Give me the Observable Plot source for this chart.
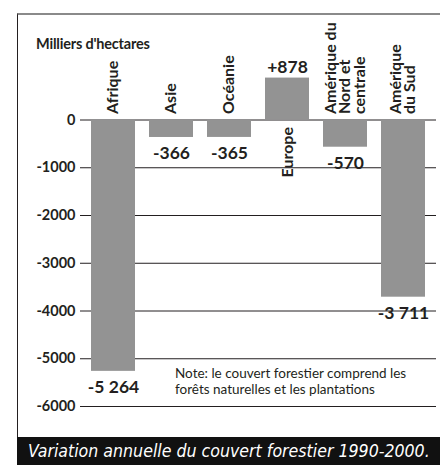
<!DOCTYPE html>
<html>
<head>
<meta charset="utf-8">
<script src="https://cdn.jsdelivr.net/npm/d3@7"></script>
<script src="https://cdn.jsdelivr.net/npm/@observablehq/plot@0.6"></script>
<style>
  html, body { margin: 0; padding: 0; background: #fff; }
  #wrap { position: relative; width: 440px; height: 465px; overflow: hidden; font-family: Lato, "Open Sans", sans-serif; color: #231f20; }
  #frame { position: absolute; left: 17px; top: 13px; width: 430px; height: 430px; border-top: 2px solid #8a8a8a; border-left: 1.5px solid #231f20; }
  #chart { position: absolute; left: 0; top: 0; }
  #unit { position: absolute; left: 36px; top: 35px; font-size: 14.5px; font-weight: bold; letter-spacing: -0.2px; }
  #note { position: absolute; left: 175px; top: 366px; font-size: 13.5px; line-height: 15.5px; color: #231f20; }
  #caption { position: absolute; left: 17px; top: 437px; width: 423px; height: 28px; background: #111; color: #fff;
    font-family: "Liberation Sans Narrow", "DejaVu Sans Condensed", sans-serif; font-style: italic; font-size: 17.6px; line-height: 28px;
    padding-left: 11px; box-sizing: border-box; white-space: nowrap; }
</style>
</head>
<body>
<div id="wrap">
  <div id="frame"></div>
  <div id="chart"></div>
  <div id="unit">Milliers d'hectares</div>
  <div id="note">Note: le couvert forestier comprend les<br>forêts naturelles et les plantations</div>
  <div id="caption">Variation annuelle du couvert forestier 1990-2000.</div>
</div>
<script>
const regions = ["Afrique", "Asie", "Océanie", "Europe", "Amérique du\nNord et\ncentrale", "Amérique\ndu Sud"];
const values = [-5264, -366, -365, 878, -570, -3711];
const yTicks = [0, -1000, -2000, -3000, -4000, -5000, -6000];

const data = regions.map((r, i) => ({region: r, value: values[i]}));
const fmt = d3.formatLocale({decimal: ",", thousands: " ", grouping: [3], currency: ["", ""], minus: "-"}).format("+,d");

const barColor = "#939393";
const ink = "#231f20";

const chart = Plot.plot({
  width: 440,
  height: 437,
  marginLeft: 80,
  marginRight: 4,
  marginTop: 24,
  marginBottom: 31,
  style: {fontFamily: "Lato, 'Open Sans', sans-serif", color: ink, background: "transparent", overflow: "visible"},
  x: {domain: regions, padding: 0.25, paddingOuter: 0.155, axis: null},
  y: {domain: [-6000, 2000], axis: null},
  marks: [
    Plot.ruleY(yTicks, {stroke: ink, strokeWidth: 1}),
    Plot.barY(data, {x: "region", y: "value", fill: barColor}),
    Plot.axisY({ticks: yTicks, label: null, tickSize: 0, tickPadding: 5, tickFormat: d => String(d), fontSize: 14.5, fontWeight: "bold", fill: ink}),
    Plot.text(data.filter(d => d.value < 0), {x: "region", y: 0, text: "region", rotate: -90, textAnchor: "start", lineAnchor: "middle", lineHeight: 0.9, dy: -6, fontSize: 16, fontWeight: "bold", fill: ink}),
    Plot.text(data.filter(d => d.value >= 0), {x: "region", y: 0, text: "region", rotate: -90, textAnchor: "end", lineAnchor: "middle", dy: 7, fontSize: 16, fontWeight: "bold", fill: ink}),
    Plot.text(data.filter(d => d.value < 0), {x: "region", y: "value", text: d => fmt(d.value), dy: 16, fontSize: 17.5, fontWeight: "bold", fill: ink}),
    Plot.text(data.filter(d => d.value >= 0), {x: "region", y: "value", text: d => fmt(d.value), dy: -11, fontSize: 17.5, fontWeight: "bold", fill: ink})
  ]
});
document.getElementById("chart").appendChild(chart);
</script>
</body>
</html>
